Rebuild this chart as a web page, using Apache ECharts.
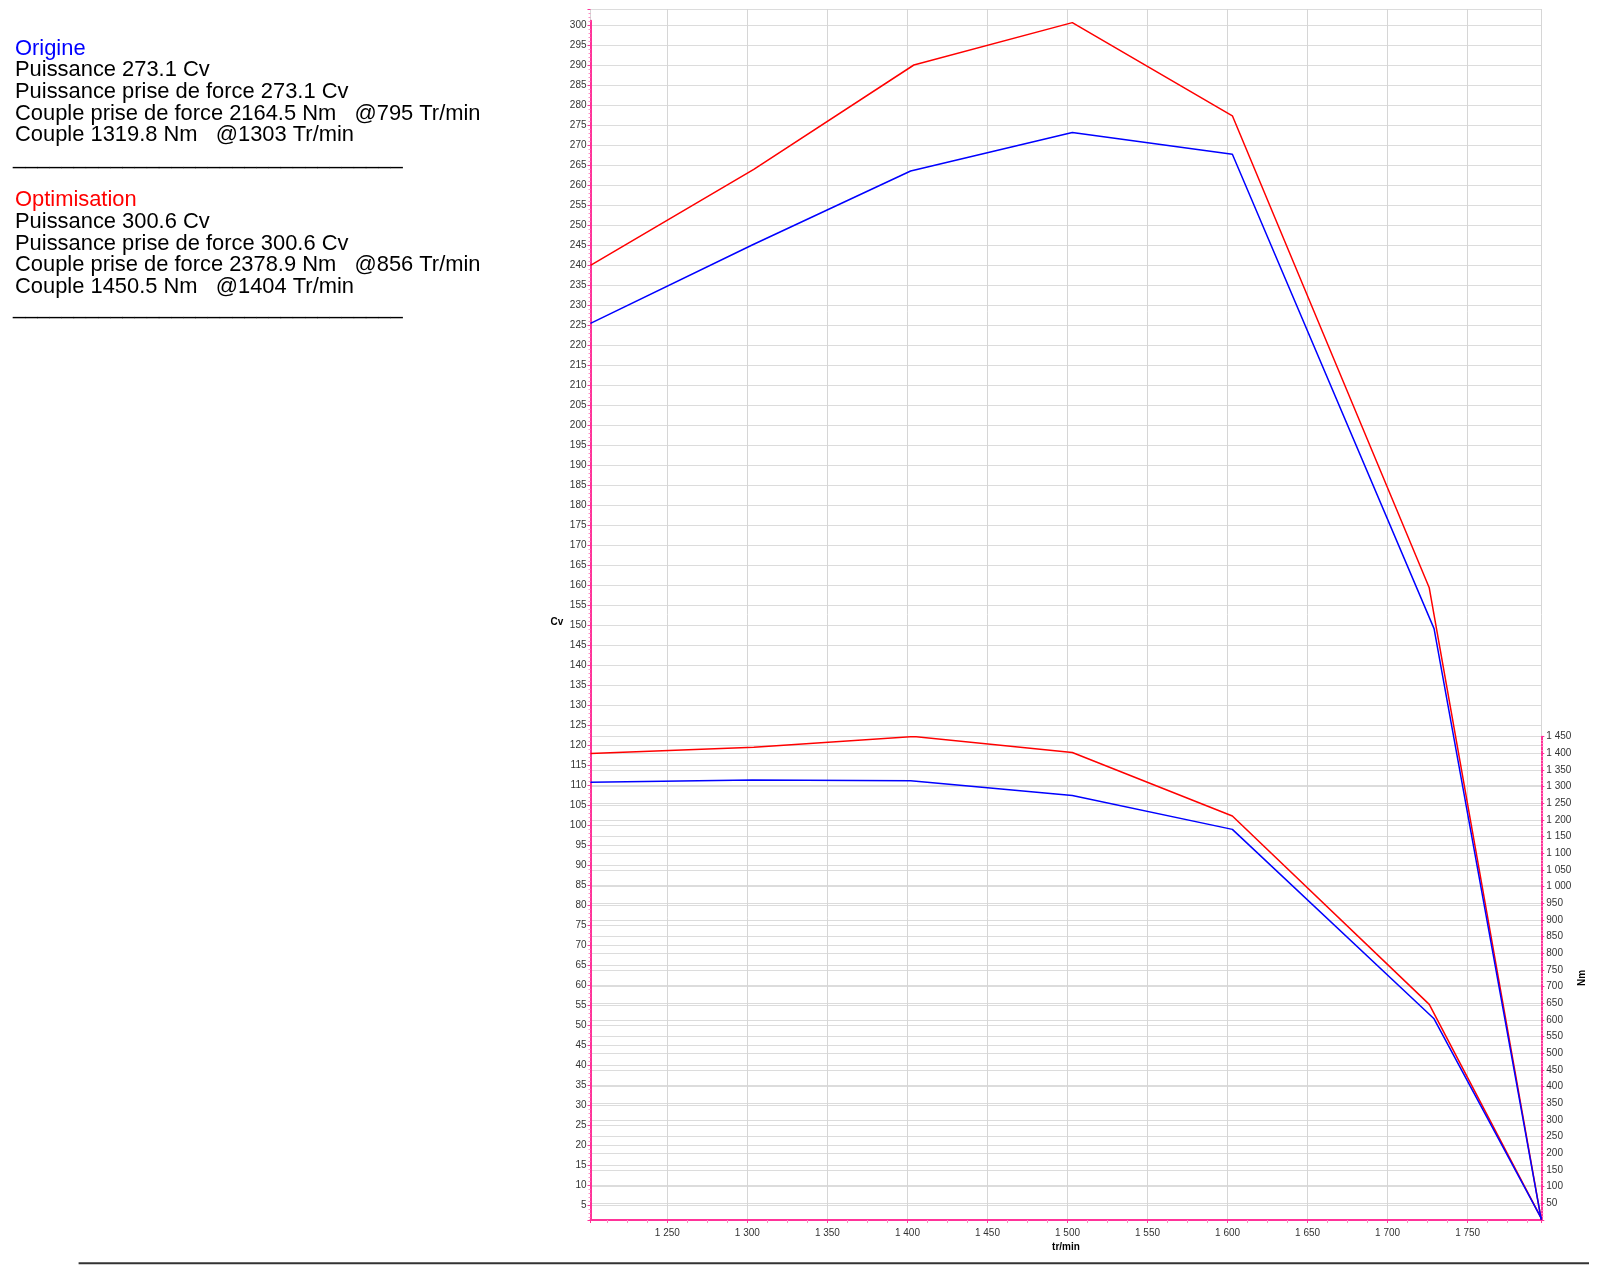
<!DOCTYPE html>
<html><head><meta charset="utf-8">
<script src="https://cdn.jsdelivr.net/npm/echarts@6/dist/echarts.min.js"></script>
<style>html,body{margin:0;padding:0;background:#fff}#c{width:1600px;height:1265px}</style>
</head><body><div id="c"></div>
<script>
// ---- data ----
const rpmOrigine = [1202, 1303, 1402, 1503, 1603, 1729, 1796];
const puissanceOrigine = [225.4, 245.0, 263.5, 273.1, 267.7, 149.1, 1.3];
const coupleOrigine = [1313.5, 1319.8, 1318.0, 1273.7, 1172.0, 603.7, 5];
const rpmOptim = [1202, 1304, 1404, 1503, 1603, 1726, 1796];
const puissanceOptim = [239.9, 263.9, 290.0, 300.6, 277.3, 159.3, 1.3];
const coupleOptim = [1399.6, 1418.0, 1450.5, 1402.6, 1212.0, 646.8, 5];

const titreOrigine = 'Origine';
const infoOrigine = ['Puissance 273.1 Cv', 'Puissance prise de force 273.1 Cv',
  'Couple prise de force 2164.5 Nm   @795 Tr/min', 'Couple 1319.8 Nm   @1303 Tr/min'];
const titreOptim = 'Optimisation';
const infoOptim = ['Puissance 300.6 Cv', 'Puissance prise de force 300.6 Cv',
  'Couple prise de force 2378.9 Nm   @856 Tr/min', 'Couple 1450.5 Nm   @1404 Tr/min'];
const separateur = '________________________________';
const nomX = 'tr/min', nomCv = 'Cv', nomNm = 'Nm';

// ---- chart ----
const PINK = '#ff3399';
const PINK_LIGHT = '#ff8cc4';
const FONT = '"Liberation Sans", Arial, sans-serif';
const fmt = v => { const s = String(Math.round(v)); return s.length > 3 ? s.slice(0, -3) + ' ' + s.slice(-3) : s; };
const zip = (a, b) => a.map((x, i) => [x, b[i]]);

const GL = 590.5, GR = 58.7, GB = 45;
const FS = '21.9px ';

const graphics = [];
function block(title, color, lines, y0) {
  graphics.push({type: 'text', x: 15, y: y0, style: {text: title, fill: color, font: FS + FONT, verticalAlign: 'middle', align: 'left'}});
  lines.forEach((t, i) => graphics.push({type: 'text', x: 15, y: y0 + 21.65 * (i + 1), style: {text: t, fill: '#000', font: FS + FONT, verticalAlign: 'middle', align: 'left'}}));
}
block(titreOrigine, '#0000ff', infoOrigine, 48.7);
graphics.push({type: 'text', x: 13, y: 157.5, style: {text: separateur, fill: '#000', font: FS + FONT, verticalAlign: 'middle'}});
block(titreOptim, '#ff0000', infoOptim, 200.3);
graphics.push({type: 'text', x: 13, y: 307.8, style: {text: separateur, fill: '#000', font: FS + FONT, verticalAlign: 'middle'}});
graphics.push({type: 'text', x: 557, y: 622, style: {text: nomCv, fill: '#000', font: 'bold 10px ' + FONT, align: 'center', verticalAlign: 'middle'}});
graphics.push({type: 'text', x: 1066, y: 1247, style: {text: nomX, fill: '#000', font: 'bold 10px ' + FONT, align: 'center', verticalAlign: 'middle'}});
graphics.push({type: 'text', x: 1582, y: 978, rotation: Math.PI / 2, style: {text: nomNm, fill: '#000', font: 'bold 10px ' + FONT, align: 'center', verticalAlign: 'middle'}});
graphics.push({type: 'line', shape: {x1: 78.6, y1: 1263.3, x2: 1589, y2: 1263.3}, style: {stroke: '#333', lineWidth: 2}});

const chart = echarts.init(document.getElementById('c'), null, {renderer: 'canvas'});
chart.setOption({
  animation: false,
  backgroundColor: '#fff',
  textStyle: {fontFamily: FONT},
  grid: [
    {left: GL, right: GR, top: 9, bottom: GB},
    {left: GL, right: GR, top: 736.7, bottom: GB},
    {left: GL, right: GR, top: 20.7, bottom: GB}
  ],
  xAxis: [
    {type: 'value', gridIndex: 0, min: 1202, max: 1796, minInterval: 50, maxInterval: 50, splitNumber: 12,
      axisLine: {show: true, lineStyle: {color: PINK, width: 2}},
      axisTick: {show: true, length: 3, lineStyle: {color: PINK}},
      minorTick: {show: true, splitNumber: 4, length: 3, lineStyle: {color: PINK_LIGHT}},
      axisLabel: {fontSize: 10, color: '#333', margin: 8, formatter: fmt, showMinLabel: false, showMaxLabel: false},
      splitLine: {show: true, lineStyle: {color: '#d6d6d6', width: 1}}},
    {type: 'value', gridIndex: 1, min: 1202, max: 1796, show: false},
    {type: 'value', gridIndex: 2, min: 1202, max: 1796, show: false}
  ],
  yAxis: [
    {type: 'value', gridIndex: 0, min: 1.25, max: 304, minInterval: 5, maxInterval: 5, splitNumber: 60,
      axisLine: {show: false},
      axisTick: {show: true, length: 3, lineStyle: {color: PINK}},
      minorTick: {show: true, splitNumber: 5, length: 2, lineStyle: {color: PINK_LIGHT}},
      axisLabel: {fontSize: 10, color: '#333', margin: 4, showMinLabel: false, showMaxLabel: false},
      splitLine: {show: true, lineStyle: {color: '#dcdcdc', width: 1}}},
    {type: 'value', gridIndex: 1, position: 'right', min: 0, max: 1450, interval: 50,
      axisLine: {show: true, lineStyle: {color: PINK, width: 2}},
      axisTick: {show: true, length: 3, lineStyle: {color: PINK}},
      minorTick: {show: true, splitNumber: 5, length: 2, lineStyle: {color: PINK_LIGHT}},
      axisLabel: {fontSize: 10, color: '#333', margin: 5, formatter: fmt, showMinLabel: false},
      splitLine: {show: true, lineStyle: {color: '#dcdcdc', width: 1}}},
    {type: 'value', gridIndex: 2, min: 0, max: 1,
      axisLine: {show: true, lineStyle: {color: PINK, width: 2}},
      axisTick: {show: false}, axisLabel: {show: false}, splitLine: {show: false}}
  ],
  series: [
    {name: 'Puissance Optimisation', type: 'line', xAxisIndex: 0, yAxisIndex: 0, data: zip(rpmOptim, puissanceOptim),
      symbol: 'none', lineStyle: {color: '#ff0000', width: 1.5}, itemStyle: {color: '#ff0000'}},
    {name: 'Couple Optimisation', type: 'line', xAxisIndex: 1, yAxisIndex: 1, data: zip(rpmOptim, coupleOptim),
      symbol: 'none', lineStyle: {color: '#ff0000', width: 1.5}, itemStyle: {color: '#ff0000'}},
    {name: 'Puissance Origine', type: 'line', xAxisIndex: 0, yAxisIndex: 0, data: zip(rpmOrigine, puissanceOrigine),
      symbol: 'none', lineStyle: {color: '#0000ff', width: 1.5}, itemStyle: {color: '#0000ff'}},
    {name: 'Couple Origine', type: 'line', xAxisIndex: 1, yAxisIndex: 1, data: zip(rpmOrigine, coupleOrigine),
      symbol: 'none', lineStyle: {color: '#0000ff', width: 1.5}, itemStyle: {color: '#0000ff'}}
  ],
  graphic: graphics
});
</script>
</body></html>
